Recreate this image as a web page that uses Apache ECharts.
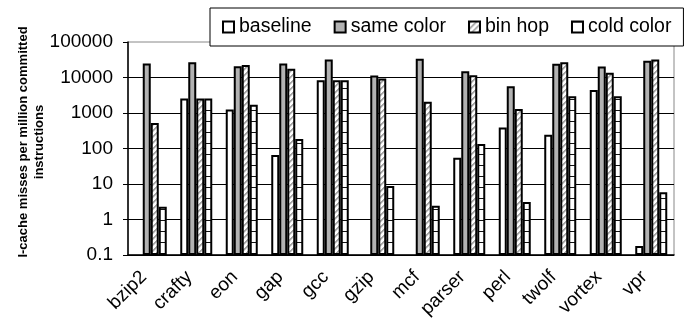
<!DOCTYPE html>
<html>
<head>
<meta charset="utf-8">
<script src="https://cdn.jsdelivr.net/npm/echarts@6/dist/echarts.min.js"></script>
<style>
  html, body { margin: 0; padding: 0; background: #fff; }
  #chart { width: 688px; height: 331px; }
</style>
</head>
<body>
<div id="chart"></div>
<script>
// values (misses per million committed instructions)
const benchmarks = ['bzip2', 'crafty', 'eon', 'gap', 'gcc', 'gzip', 'mcf', 'parser', 'perl', 'twolf', 'vortex', 'vpr']
const baseline = [null, 2550, 1250, 66, 8300, null, null, 55, 390, 245, 4450, 0.18]
const sameColor = [24700, 26900, 20700, 24700, 32000, 11300, 33500, 15000, 5650, 24200, 20300, 29400]
const binHop = [520, 2550, 22600, 17500, 8300, 9300, 2080, 11600, 1300, 26900, 13500, 32000]
const coldColor = [2.3, 2550, 1700, 184, 8300, 8.8, 2.45, 133, 3.1, 2950, 2950, 5.9]
const yTicks = [0.1, 1, 10, 100, 1000, 10000, 100000]

const font = 'Liberation Sans, Arial, sans-serif'

function makeTile(w, h, draw) {
  const c = document.createElement('canvas')
  c.width = w
  c.height = h
  const ctx = c.getContext('2d')
  ctx.fillStyle = '#fff'
  ctx.fillRect(0, 0, w, h)
  draw(ctx)
  return c
}

// gray "/" stripes for bin hop
const stripeTile = makeTile(6, 6, (ctx) => {
  for (let x = 0; x < 6; x++) {
    for (let y = 0; y < 6; y++) {
      const k = (x + y) % 6
      if (k < 2) {
        ctx.fillStyle = '#a6a6a6'
        ctx.fillRect(x, y, 1, 1)
      } else if (k === 2) {
        ctx.fillStyle = '#d4d4d4'
        ctx.fillRect(x, y, 1, 1)
      }
    }
  }
})

// horizontal rules for cold color
const gridTile = makeTile(4, 11, (ctx) => {
  ctx.fillStyle = '#111'
  ctx.fillRect(0, 0, 4, 1)
})

function barSeries(name, data, color) {
  return {
    name: name,
    type: 'bar',
    data: data,
    barWidth: 8,
    barGap: '0%',
    itemStyle: {
      color: color,
      borderColor: '#000',
      borderWidth: 2
    }
  }
}

const chart = echarts.init(document.getElementById('chart'))
chart.setOption({
  animation: false,
  textStyle: { fontFamily: font },
  legend: {
    left: 210,
    top: 8,
    padding: [9, 12, 9, 12],
    itemGap: 22,
    itemWidth: 11,
    itemHeight: 11,
    icon: 'rect',
    backgroundColor: '#fff',
    borderColor: '#000',
    borderWidth: 1,
    itemStyle: { borderColor: '#000', borderWidth: 2 },
    textStyle: { fontSize: 19.5, color: '#000', fontFamily: font },
    data: ['baseline', 'same color', 'bin hop', 'cold color']
  },
  grid: {
    left: 128,
    right: 14,
    top: 42,
    bottom: 76,
    show: true,
    borderColor: '#888',
    borderWidth: 1
  },
  graphic: [
    {
      type: 'text',
      x: 31,
      y: 142,
      rotation: Math.PI / 2,
      style: {
        text: 'I-cache misses per million committed\ninstructions',
        font: 'bold 13px ' + font,
        fill: '#000',
        align: 'center',
        verticalAlign: 'middle',
        lineHeight: 16
      }
    }
  ],
  xAxis: {
    type: 'category',
    data: benchmarks,
    axisLine: { lineStyle: { color: '#000', width: 1.5 } },
    axisTick: { length: 5, lineStyle: { color: '#000' } },
    axisLabel: {
      rotate: 45,
      interval: 0,
      fontSize: 19,
      color: '#000',
      margin: 12,
      padding: [0, 10, 0, 0]
    }
  },
  yAxis: {
    type: 'log',
    logBase: 10,
    min: yTicks[0],
    max: yTicks[yTicks.length - 1],
    startValue: yTicks[0],
    axisLine: { show: true, lineStyle: { color: '#000', width: 1.5 } },
    axisTick: { show: true, length: 5, lineStyle: { color: '#000' } },
    axisLabel: {
      fontSize: 19,
      color: '#000',
      margin: 15,
      formatter: (v) => String(+v.toPrecision(6))
    },
    splitLine: {
      show: true,
      showMaxLine: false,
      lineStyle: { color: '#000', width: 1 }
    }
  },
  series: [
    barSeries('baseline', baseline, '#fff'),
    barSeries('same color', sameColor, '#b2b2b2'),
    barSeries('bin hop', binHop, { image: stripeTile, repeat: 'repeat' }),
    barSeries('cold color', coldColor, { image: gridTile, repeat: 'repeat' })
  ]
})
</script>
</body>
</html>
